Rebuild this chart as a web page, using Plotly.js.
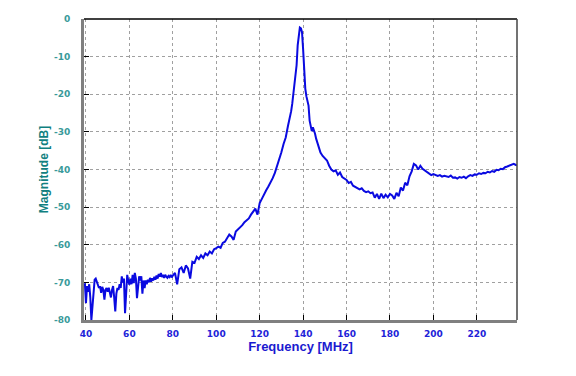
<!DOCTYPE html>
<html>
<head>
<meta charset="utf-8">
<script src="https://cdn.plot.ly/plotly-3.0.1.min.js"></script>
<style>html,body{margin:0;padding:0;background:#fff;}#chart{width:576px;height:376px;}</style>
</head>
<body>
<div id="chart"></div>
<script>
var freq = [39.5,40,40.5,41,41.5,42,42.5,43,43.5,44,44.5,45,45.5,46,46.5,47,47.5,48,48.5,49,49.5,50,50.5,51,51.5,52,52.5,53,53.5,54,54.5,55,55.5,56,56.5,57,57.5,58,58.5,59,59.5,60,60.5,61,61.5,62,62.5,63,63.5,64,64.5,65,65.5,66,66.5,67,67.5,68,68.5,69,69.5,70,70.5,71,71.5,72,72.5,73,73.5,74,74.5,75,75.5,76,76.5,77,77.5,78,78.5,79,79.5,
80,81,82,83,84,85,86,87,88,89,90,91,92,93,94,95,96,97,98,99,100,101,102,103,104,105,106,107,108,109,110,111,112,113,114,115,116,117,118,119,120,121,122,123,124,125,126,127,128,129,130,
131,132,133,134,134.5,135,135.5,136,136.5,137,137.5,138,138.5,139,139.5,140,140.5,141,141.5,142,142.5,143,143.5,144,144.5,145,145.5,146,147,148,149,150,151,152,153,154,155,156,157,158,159,160,
161,162,163,164,165,166,167,168,169,170,171,172,173,174,175,176,177,178,179,180,181,182,183,184,185,186,187,188,189,190,191,192,193,194,195,196,197,198,199,200,
201,202,203,204,205,206,207,208,209,210,211,212,213,214,215,216,217,218,219,220,221,222,223,224,225,226,227,228,229,230,231,232,233,234,235,236,237,238,238.5];
var magnitude = [-70.2,-75.5,-71,-72.5,-70.5,-74,-80,-76,-71,-69.3,-69,-69.8,-70.4,-71.5,-71,-72.8,-71.2,-72,-74.6,-72,-71.5,-72.5,-71.4,-73,-74,-72,-71,-74,-77.7,-73,-71.5,-72,-70.5,-71.5,-68.4,-70,-69,-78.2,-73,-68,-69.5,-70.6,-69,-70.5,-68,-70.2,-67.5,-69,-74.2,-70,-68.4,-69.5,-68.4,-73,-69.5,-71.5,-69.5,-70.5,-69.3,-70,-68.8,-69.8,-68.9,-69.5,-68.5,-69.3,-68.2,-69,-67.8,-68.5,-67.5,-68.6,-68,-68.8,-68,-68.5,-68.8,-68.3,-68.6,-68,-68.7,
-68.2,-67.5,-70.5,-66.5,-66,-67.5,-65.5,-66.3,-69,-64.5,-64.8,-63.2,-63.8,-62.8,-63.5,-62.3,-62.8,-61.8,-62.3,-61.2,-60.9,-60.5,-60.8,-59.5,-59.2,-58.3,-57.3,-57.8,-58.7,-56.5,-56,-55.3,-54.8,-54,-53.4,-53,-52,-51.1,-50.4,-52,-48.9,-47.8,-46.5,-45.5,-44.5,-43.5,-42.3,-40.9,-39.2,-37.2,-35.4,
-33.2,-31.5,-28.5,-26,-24.5,-22.5,-20,-17.5,-15,-12.3,-7,-3.5,-2.3,-2.5,-3.5,-8,-14,-18.5,-20.5,-21.5,-23,-27,-28.5,-29.8,-28.8,-29.6,-30.5,-31.8,-34,-35.5,-36.4,-37,-37.6,-39,-40,-40.5,-40.2,-41.4,-40.8,-42,-42.5,-42.8,
-43.6,-43.3,-44.3,-44.7,-44.9,-45.3,-45,-45.7,-46,-45.8,-46.3,-46.1,-47.5,-46.5,-47.8,-46.4,-47.6,-46.7,-47.4,-46.5,-46.9,-47.8,-46.2,-47.1,-44.8,-45.6,-43.5,-44.2,-41.8,-40.5,-38.5,-38.9,-40,-39,-39.8,-40.2,-40.6,-40.9,-41.5,-41.2,
-41.5,-41.7,-41.5,-41.9,-41.7,-41.8,-42,-41.6,-42.2,-42.1,-42.4,-42,-42.2,-41.9,-42.3,-41.8,-41.5,-41.7,-41.3,-41.4,-41,-41.2,-40.9,-41,-40.6,-40.8,-40.4,-40.6,-40.1,-40.2,-39.8,-39.9,-39.4,-39.2,-39,-38.6,-38.5,-38.8,-38.9];
var xTicks = [40,60,80,100,120,140,160,180,200,220];
var yTicks = [0,-10,-20,-30,-40,-50,-60,-70,-80];

var trace = {
  x: freq, y: magnitude, type: 'scatter', mode: 'lines',
  line: {color: '#0a0ae0', width: 2}, hoverinfo: 'none'
};
var layout = {
  width: 576, height: 376,
  margin: {l: 84, r: 59, t: 19, b: 56},
  paper_bgcolor: '#ffffff', plot_bgcolor: '#ffffff',
  showlegend: false,
  xaxis: {
    range: [39.1, 238.5], tickvals: xTicks, ticktext: xTicks.map(String),
    showgrid: true, gridcolor: '#a0a0a0', griddash: '3px,3px', gridwidth: 1,
    zeroline: false, showline: true, linecolor: '#808080', linewidth: 3,
    ticks: 'inside', ticklen: 5, tickcolor: '#000000', tickwidth: 1,
    ticklabelstandoff: 3,
    tickfont: {family: 'DejaVu Sans', size: 9, color: '#2222d8', weight: 'bold'},
    title: {text: 'Frequency [MHz]', standoff: 4, font: {family: 'Liberation Sans', size: 13, color: '#1a1ad0', weight: 'bold'}}
  },
  yaxis: {
    range: [-80, 0], tickvals: yTicks, ticktext: yTicks.map(String),
    showgrid: true, gridcolor: '#a0a0a0', griddash: '3px,3px', gridwidth: 1,
    zeroline: false, showline: true, linecolor: '#808080', linewidth: 3,
    ticks: 'inside', ticklen: 5, tickcolor: '#000000', tickwidth: 1,
    ticklabelstandoff: 9,
    tickfont: {family: 'DejaVu Sans', size: 9, color: '#3a9a9a', weight: 'bold'},
    title: {text: 'Magnitude [dB]', standoff: 3, font: {family: 'Liberation Sans', size: 12, color: '#108080', weight: 'bold'}}
  },
  shapes: [
    {type: 'line', xref: 'paper', yref: 'paper', x0: 0, x1: 1, y0: 1, y1: 1, line: {color: '#000000', width: 1.5}},
    {type: 'line', xref: 'paper', yref: 'paper', x0: 1, x1: 1, y0: 0, y1: 1, line: {color: '#444444', width: 1.5}}
  ]
};
Plotly.newPlot('chart', [trace], layout, {displayModeBar: false, staticPlot: true});
</script>
</body>
</html>
